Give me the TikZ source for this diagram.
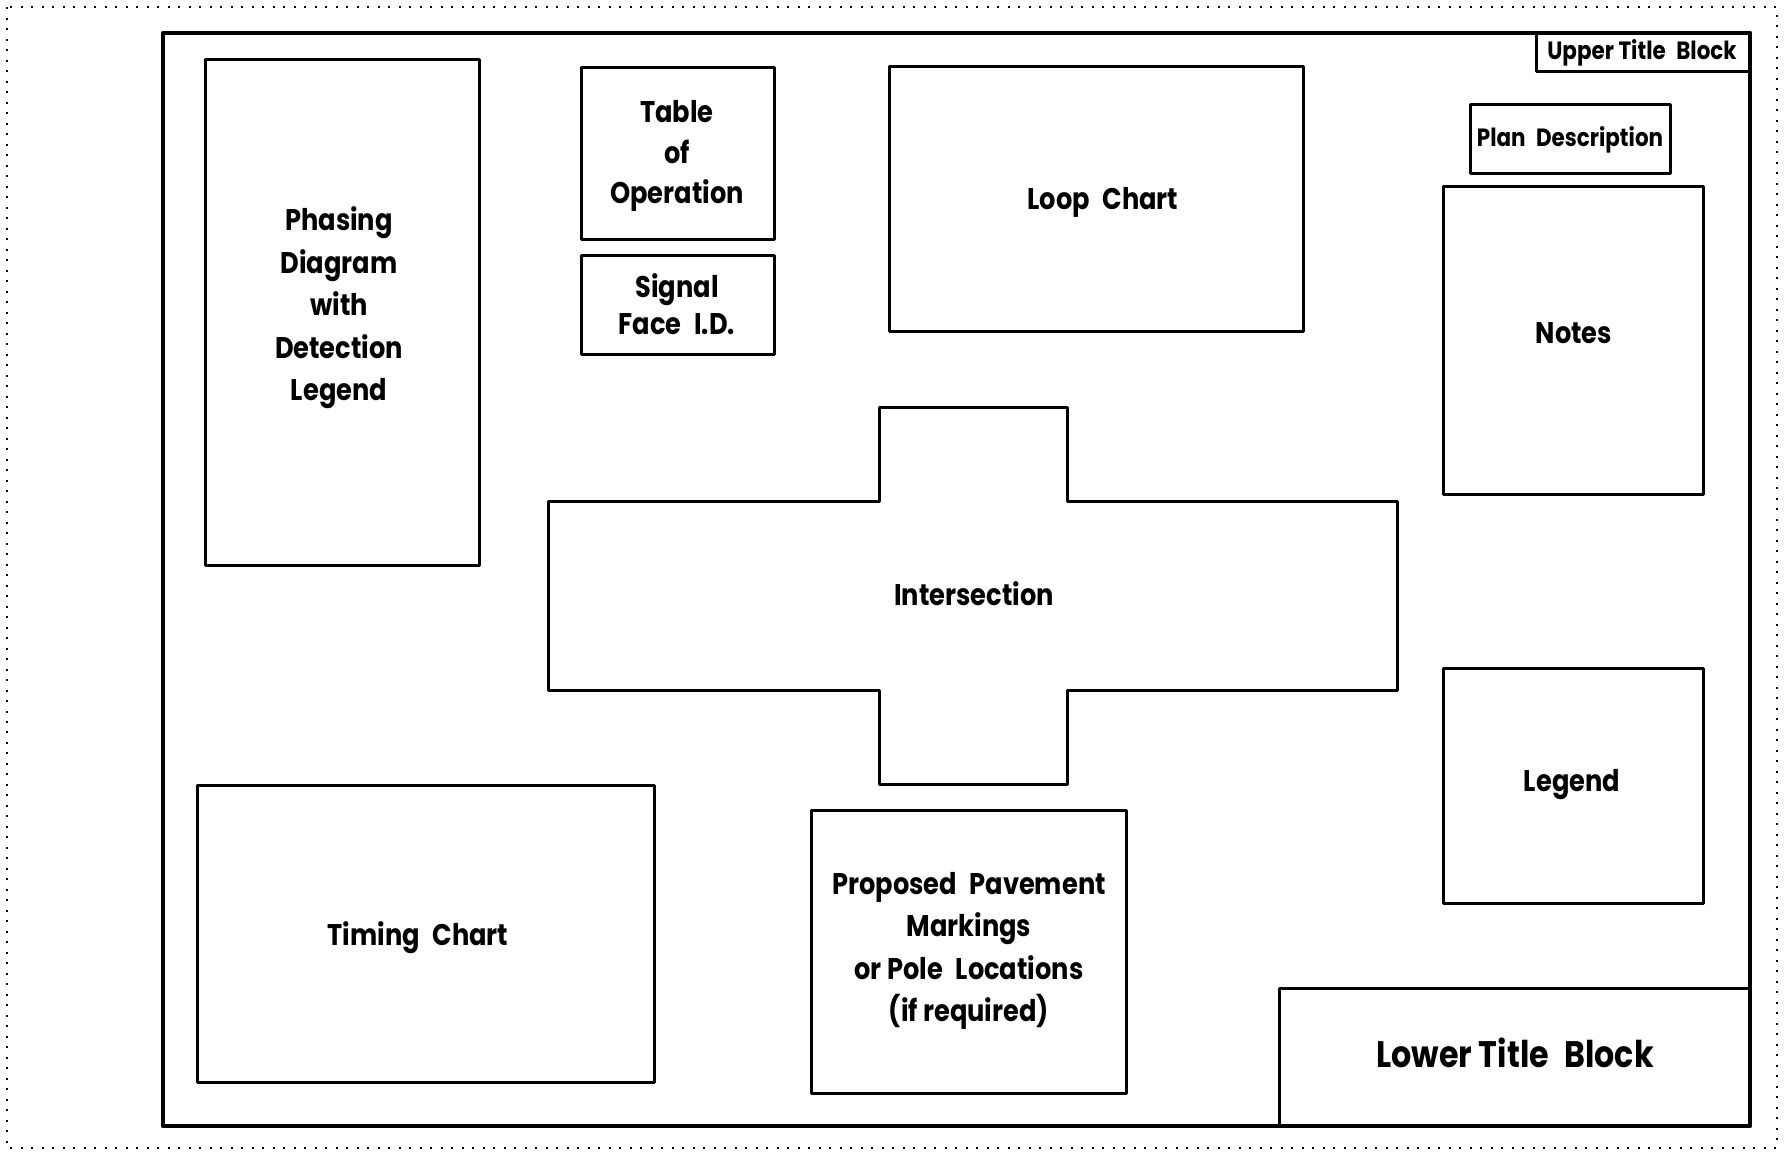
\documentclass[tikz,border=0pt]{standalone}
\usepackage{fontspec}
\setmainfont{Poppins}[FakeStretch=0.86]
\usepackage{tikz}
\newcommand{\wsp}{\hspace{0.42em}}
\tikzset{
  box/.style={draw, line width=0.3mm, line join=round},
  frame/.style={draw, line width=0.42mm, line join=round},
  lbl/.style={align=center, inner sep=0pt, font=\fontsize{8.5}{12.1}\selectfont\bfseries},
  tightlbl/.style={lbl, font=\fontsize{8.5}{11.5}\selectfont\bfseries},
  smalllbl/.style={lbl, font=\fontsize{7.1}{9}\selectfont\bfseries},
  biglbl/.style={lbl, font=\fontsize{10.5}{13}\selectfont\bfseries},
}

\begin{document}
\begin{tikzpicture}[x=0.1mm,y=-0.1mm]
    \useasboundingbox (0,0) rectangle (1787,1153);
    \draw[line width=0.2mm, dash pattern=on 0.2mm off 0.85mm] (7,7) rectangle (1777,1148);
    \draw[frame] (163,33) rectangle (1750,1126);
    % title blocks
    \draw[box] (1536,33) rectangle (1750,71);
    \node[smalllbl] (upper) at (1642,53) {Upper Title\wsp Block};
    \draw[box] (1279,988) -- (1750,988);
    \draw[box] (1279,988) -- (1279,1126);
    \node[biglbl] (lower) at (1515,1053) {Lower Title\wsp Block};
    % left column
    \draw[box] (205,59) rectangle (479,565);
    \node[lbl] (phasing) at (339,308) {Phasing\\Diagram\\with\\Detection\\Legend};
    \draw[box] (197,785) rectangle (654,1082);
    \node[lbl] (timing) at (418,938) {Timing\wsp Chart};
    % middle
    \draw[box] (581,67) rectangle (774,239);
    \node[tightlbl] (table) at (677,156) {Table\\of\\Operation};
    \draw[box] (581,255) rectangle (774,354);
    \node[lbl, font=\fontsize{8.5}{10.7}\selectfont\bfseries] (face) at (677,304) {Signal\\Face\wsp I.D.};
    \draw[box] (889,66) rectangle (1303,331);
    \node[lbl] (loop) at (1103,202) {Loop\wsp Chart};
    \draw[box] (548,501) -- (879,501) -- (879,407) -- (1067,407) -- (1067,501)
      -- (1397,501) -- (1397,690) -- (1067,690) -- (1067,784) -- (879,784)
      -- (879,690) -- (548,690) -- cycle;
    \node[lbl] (inter) at (974,594) {Intersection};
    \draw[box] (811,810) rectangle (1126,1093);
    \node[lbl] (pave) at (969,951) {Proposed\wsp Pavement\\Markings\\or Pole\wsp Locations\\(if required)};
    % right column
    \draw[box] (1470,104) rectangle (1670,173);
    \node[smalllbl] (plan) at (1570,140) {Plan\wsp Description};
    \draw[box] (1443,186) rectangle (1703,494);
    \node[lbl] (notes) at (1574,333) {Notes};
    \draw[box] (1443,668) rectangle (1703,903);
    \node[lbl] (legend) at (1572,785) {Legend};
  \end{tikzpicture}
\end{document}
